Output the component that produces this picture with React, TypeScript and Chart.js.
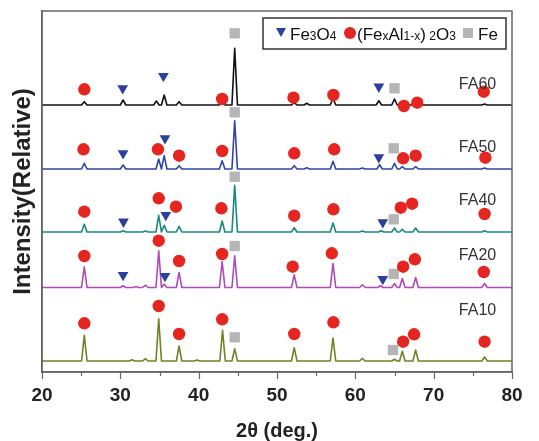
import React, { useEffect, useRef } from "react";
import { Chart, registerables } from "chart.js";

Chart.register(...registerables);

// ---------- data ----------
const X_MIN = 20;
const X_MAX = 80;
const Y_MAX = 361;
const xTickValues = [20, 25, 30, 35, 40, 45, 50, 55, 60, 65, 70, 75, 80];
const xTickLabels = ["20", "", "30", "", "40", "", "50", "", "60", "", "70", "", "80"];

const seriesNames = ["FA60", "FA50", "FA40", "FA20", "FA10"];
const seriesColors = ["#111111", "#2f45a6", "#178a80", "#b04ab8", "#6b8424"];
const seriesBaselines = [267, 203, 140, 84.5, 11];

// [2theta, peak height above baseline]
const peaksFA60 = [
  [25.4, 3.3], [30.35, 5], [34.6, 4], [35.6, 10], [37.5, 3.3], [43.0, 6.7], [44.6, 56.7],
  [52.2, 2.3], [53.8, 1.7], [57.15, 6.7], [63.0, 4.3], [65.0, 6], [66.0, 1.7], [67.7, 2.3], [76.5, 1],
];
const peaksFA50 = [
  [25.4, 5.7], [30.35, 4], [34.9, 10], [35.6, 13.3], [37.5, 3.3], [43.0, 8.3], [44.6, 48.3],
  [52.2, 3.3], [53.8, 1.2], [57.15, 7.7], [60.9, 1], [63.1, 4.3], [65.0, 5.7], [66.0, 2.3], [67.7, 2.3], [76.5, 1],
];
const peaksFA40 = [
  [25.4, 7.7], [30.35, 1.3], [33.2, 1], [34.9, 16.7], [35.6, 6.7], [37.5, 5.7], [43.0, 11], [44.6, 46.7],
  [52.2, 4.3], [57.15, 9], [60.9, 1], [63.3, 1.3], [65.0, 4], [66.0, 2.7], [67.7, 4], [76.5, 1.3],
];
const peaksFA20 = [
  [25.4, 20.7], [30.35, 1.7], [32.0, 1], [33.2, 2.3], [34.9, 36.7], [35.6, 3.3], [37.5, 15], [43.0, 26],
  [44.6, 31.7], [52.2, 12.7], [57.15, 24], [60.9, 2.7], [63.2, 1.7], [65.0, 4], [66.0, 9], [67.7, 10], [76.5, 4],
];
const peaksFA10 = [
  [25.4, 25.7], [31.5, 1.3], [33.2, 2.3], [34.9, 42.3], [37.5, 15], [39.8, 1], [43.05, 30.7], [44.6, 12.3],
  [52.2, 13.3], [57.15, 23], [60.9, 2.7], [65.0, 1.7], [66.0, 9.7], [67.7, 11], [76.5, 4],
];
const seriesPeaks = [peaksFA60, peaksFA50, peaksFA40, peaksFA20, peaksFA10];

// phase markers [2theta, y]
const fe3o4Markers = [
  [30.3, 283.7], [35.5, 296], [63.0, 285.3],
  [30.35, 218.7], [35.7, 233.7], [63.0, 214.7],
  [30.4, 150.3], [35.8, 157], [63.5, 149.7],
  [30.35, 97], [35.7, 96], [63.5, 93],
];
const oxideMarkers = [
  [25.4, 282.7], [43.0, 273], [52.1, 274.3], [57.2, 277], [66.2, 266], [67.9, 269.3], [76.4, 280.3],
  [25.3, 222.7], [34.8, 222.7], [37.5, 216.3], [43.0, 221], [52.2, 218.7], [57.3, 222.7], [66.1, 213.7], [67.7, 216.3], [76.6, 214.3],
  [25.4, 160.3], [34.9, 173.7], [37.1, 165.3], [42.9, 163.7], [52.2, 156.3], [57.2, 162.7], [65.8, 164.3], [67.25, 168.3], [76.5, 158],
  [25.4, 116], [34.9, 131.3], [37.5, 111], [43.0, 118], [52.0, 105.3], [57.0, 118.7], [66.1, 105.3], [67.6, 112.7], [76.4, 100],
  [25.4, 48.7], [34.9, 66], [37.5, 38], [43.0, 52.7], [52.2, 38], [57.2, 49.7], [66.1, 30.3], [67.5, 37.7], [76.5, 30.3],
];
const feMarkers = [
  [44.6, 338.7], [65.0, 283.7],
  [44.6, 259.7], [64.9, 223.7],
  [44.6, 195.3], [64.9, 152.7],
  [44.6, 126], [64.9, 98],
  [44.6, 34.7], [64.8, 22],
];

// sample label anchors [2theta, y]
const sampleLabelAnchors = [[75.6, 287], [75.6, 224], [75.6, 171], [75.6, 116], [75.6, 61]];

const phaseColors = { fe3o4: "#2b3f9e", oxide: "#e52620", fe: "#b5b5b5" };

// ---------- helpers ----------
const HALF_W = 0.35;
function buildPattern(base: number, peaks: number[][]) {
  const pts: { x: number; y: number }[] = [{ x: X_MIN, y: base }];
  for (const [pos, h] of peaks) {
    pts.push({ x: pos - HALF_W, y: base }, { x: pos, y: base + h }, { x: pos + HALF_W, y: base });
  }
  pts.push({ x: X_MAX, y: base });
  return pts;
}
const toPts = (arr: number[][]) => arr.map(([x, y]) => ({ x, y }));

const framePlugin = {
  id: "frameAndTicks",
  afterDraw(chart: any) {
    const { ctx, chartArea } = chart;
    const xs = chart.scales.x;
    ctx.save();
    ctx.strokeStyle = "#666";
    ctx.lineWidth = 1.5;
    ctx.strokeRect(chartArea.left, chartArea.top, chartArea.right - chartArea.left, chartArea.bottom - chartArea.top);
    ctx.lineWidth = 1.2;
    xTickValues.forEach((v, i) => {
      const px = Math.round(xs.getPixelForValue(v)) + 0.5;
      const len = xTickLabels[i] ? 7 : 4;
      ctx.beginPath();
      ctx.moveTo(px, chartArea.bottom);
      ctx.lineTo(px, chartArea.bottom + len);
      ctx.stroke();
    });
    // sample labels
    ctx.fillStyle = "#333";
    ctx.font = "16px Arial, 'Liberation Sans', sans-serif";
    ctx.textAlign = "center";
    ctx.textBaseline = "middle";
    seriesNames.forEach((n, i) => {
      const [ax, ay] = sampleLabelAnchors[i];
      ctx.fillText(n, xs.getPixelForValue(ax), chart.scales.y.getPixelForValue(ay));
    });
    // legend
    const R = chartArea.right;
    const T = chartArea.top;
    ctx.fillStyle = "#fff";
    ctx.fillRect(R - 249, T + 7, 243, 31);
    ctx.strokeStyle = "#333";
    ctx.lineWidth = 1.5;
    ctx.strokeRect(R - 249, T + 7, 243, 31);
    const cy = T + 22;
    const baseY = T + 29;
    ctx.fillStyle = phaseColors.fe3o4;
    ctx.beginPath();
    ctx.moveTo(R - 236, cy - 5);
    ctx.lineTo(R - 226, cy - 5);
    ctx.lineTo(R - 231, cy + 4);
    ctx.closePath();
    ctx.fill();
    ctx.fillStyle = phaseColors.oxide;
    ctx.beginPath();
    ctx.arc(R - 162, cy, 6, 0, Math.PI * 2);
    ctx.fill();
    ctx.fillStyle = phaseColors.fe;
    ctx.fillRect(R - 49, cy - 5, 10, 10);
    const big = "17px Arial, 'Liberation Sans', sans-serif";
    const small = "12px Arial, 'Liberation Sans', sans-serif";
    const drawParts = (x0: number, parts: [string, boolean][]) => {
      let x = x0;
      ctx.fillStyle = "#111";
      ctx.textAlign = "left";
      ctx.textBaseline = "alphabetic";
      for (const [t, isBig] of parts) {
        ctx.font = isBig ? big : small;
        ctx.fillText(t, x, baseY);
        x += ctx.measureText(t).width;
      }
    };
    drawParts(R - 222, [["Fe", true], ["3", false], ["O", true], ["4", false]]);
    drawParts(R - 155, [["(", true], ["Fe", true], ["x", false], ["Al", true], ["1-x", false], [")", true], [" 2", false], ["O", true], ["3", false]]);
    drawParts(R - 34, [["Fe", true]]);
    ctx.restore();
  },
};

export default function App() {
  const ref = useRef<HTMLCanvasElement | null>(null);
  useEffect(() => {
    document.body.style.margin = "0";
    if (!ref.current) return;
    const lineSets = seriesNames.map((n, i) => ({
      type: "line" as const,
      label: n,
      data: buildPattern(seriesBaselines[i], seriesPeaks[i]),
      borderColor: seriesColors[i],
      borderWidth: 1.6,
      borderJoinStyle: "round" as const,
      pointRadius: 0,
      tension: 0,
      fill: false,
      order: 2,
    }));
    const markerSets = [
      { label: "Fe3O4", data: toPts(fe3o4Markers), pointStyle: "triangle", rotation: 180, pointRadius: 6.2, color: phaseColors.fe3o4 },
      { label: "oxide", data: toPts(oxideMarkers), pointStyle: "circle", rotation: 0, pointRadius: 6.2, color: phaseColors.oxide },
      { label: "Fe", data: toPts(feMarkers), pointStyle: "rect", rotation: 0, pointRadius: 7.3, color: phaseColors.fe },
    ].map((m) => ({
      type: "scatter" as const,
      label: m.label,
      data: m.data,
      pointStyle: m.pointStyle,
      rotation: m.rotation,
      pointRadius: m.pointRadius,
      pointBackgroundColor: m.color,
      pointBorderColor: m.color,
      pointBorderWidth: 0,
      showLine: false,
      order: 1,
    }));
    const chart = new Chart(ref.current, {
      type: "line",
      data: { datasets: [...markerSets, ...lineSets] as any },
      options: {
        animation: false,
        responsive: false,
        layout: { padding: { top: 11, right: 27, left: 0, bottom: 0 } },
        plugins: { legend: { display: false }, tooltip: { enabled: false } },
        scales: {
          x: {
            type: "linear",
            min: X_MIN,
            max: X_MAX,
            afterBuildTicks: (s: any) => {
              s.ticks = xTickValues.map((v) => ({ value: v }));
            },
            afterFit: (s: any) => {
              s.height = 69;
            },
            ticks: {
              autoSkip: false,
              maxRotation: 0,
              padding: 12,
              color: "#222",
              font: { family: "Arial, 'Liberation Sans', sans-serif", size: 19, weight: "bold" },
              callback: (v: any) => {
                const i = xTickValues.indexOf(Number(v));
                return i >= 0 ? xTickLabels[i] : "";
              },
            },
            grid: { drawOnChartArea: false, drawTicks: false },
            border: { display: true, color: "#666", width: 1.5 },
            title: {
              display: true,
              text: "2θ (deg.)",
              color: "#222",
              padding: 0,
              font: { family: "Arial, 'Liberation Sans', sans-serif", size: 20, weight: "bold", lineHeight: 1 },
            },
          },
          y: {
            type: "linear",
            min: 0,
            max: Y_MAX,
            afterFit: (s: any) => {
              s.width = 42;
            },
            ticks: { display: false },
            grid: { display: false, drawTicks: false },
            border: { display: true, color: "#666", width: 1.5 },
            title: {
              display: true,
              text: "Intensity(Relative)",
              color: "#222",
              padding: { top: 11, bottom: 0 },
              font: { family: "Arial, 'Liberation Sans', sans-serif", size: 24, weight: "bold", lineHeight: 1 },
            },
          },
        },
      },
      plugins: [framePlugin],
    } as any);
    return () => chart.destroy();
  }, []);
  return (
    <div style={{ width: 539, height: 441 }}>
      <canvas ref={ref} width={539} height={441} />
    </div>
  );
}
